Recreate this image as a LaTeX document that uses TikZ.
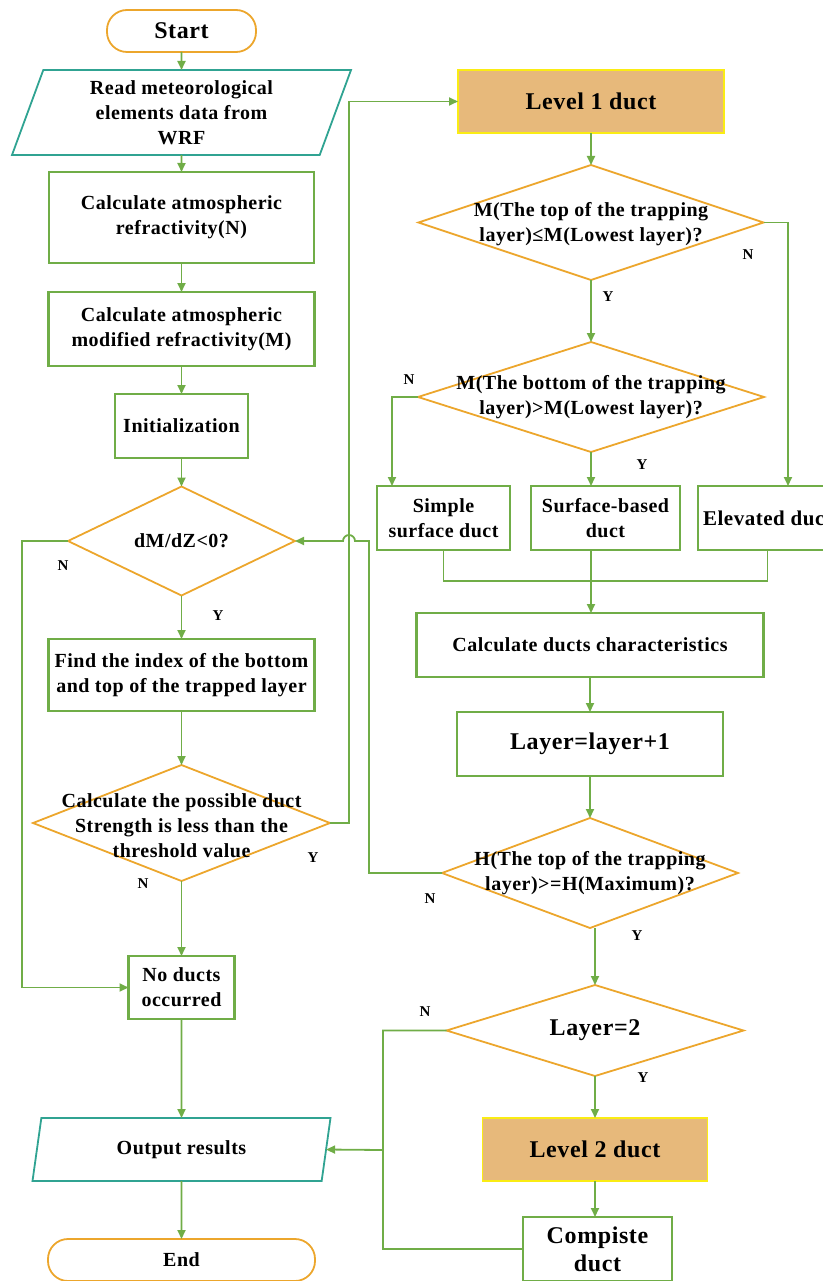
\documentclass[tikz,border=0pt]{standalone}
\usepackage{fontspec}
\setmainfont[LetterSpace=2.5]{Liberation Serif}
\usetikzlibrary{shapes.geometric, arrows.meta, calc}
\definecolor{lgreen}{RGB}{112,173,71}
\definecolor{dorange}{RGB}{236,166,44}
\definecolor{iteal}{RGB}{48,163,146}
\definecolor{ductfill}{RGB}{231,185,123}
\definecolor{ductedge}{RGB}{250,236,20}
\newcommand\fnorm{\fontsize{20}{25}\selectfont\bfseries}
\newcommand\fbig{\fontsize{24}{28}\selectfont\bfseries}
\newcommand\yn[3]{\node[ynlab] (#1) at (#2) {#3};}

\tikzset{
  proc/.style={draw=lgreen, line width=2.2pt, fill=white, rectangle, inner sep=0pt, outer sep=0pt, align=center, font=\fnorm},
  term/.style={draw=dorange, line width=1.8pt, rounded corners=20pt, inner sep=0pt, outer sep=0pt, font=\fnorm},
  io/.style={draw=iteal, line width=1.8pt, trapezium, trapezium left angle=64, trapezium right angle=116, trapezium stretches body, inner sep=0pt, outer sep=0pt, align=center, font=\fnorm},
  dec/.style={draw=dorange, line width=1.8pt, diamond, inner sep=0pt, outer sep=0pt},
  dtext/.style={align=center, inner sep=0pt, font=\fnorm},
  ductlvl/.style={draw=ductedge, fill=ductfill, line width=1.8pt, inner sep=0pt, outer sep=0pt, font=\fbig},
  ynlab/.style={font=\fontsize{15}{15}\selectfont\bfseries, inner sep=0pt},
  link/.style={draw=lgreen, line width=1.8pt},
  arr/.style={link, -{Triangle[length=9pt,width=8pt]}},
}

\begin{document}
\begin{tikzpicture}[x=1pt, y=-1pt]
\useasboundingbox (0,0) rectangle (822,1281);

% left column
\node[term, font=\fbig, minimum width=149pt, minimum height=42pt] (start) at (181.5,31) {Start};
\node[io, minimum width=339pt, minimum height=85pt] (read) at (181.5,112.5) {Read meteorological\\elements data from\\WRF};
\node[proc, minimum width=265pt, minimum height=91pt] (calcN) at (181.5,217.5) {Calculate atmospheric\\refractivity(N)};
\node[proc, minimum width=266pt, minimum height=74pt] (calcM) at (181.5,329) {Calculate atmospheric\\modified refractivity(M)};
\node[proc, minimum width=133pt, minimum height=64pt] (init) at (181.5,426) {Initialization};
\node[dec, minimum width=227pt, minimum height=109pt] (dz) at (181.5,541) {};
\node[dtext] (dzt) at (dz) {dM/dZ<0?};
\node[proc, minimum width=266pt, minimum height=72pt] (find) at (181.5,675) {Find the index of the bottom\\and top of the trapped layer};
\node[dec, minimum width=297pt, minimum height=116pt] (pd) at (181.5,823) {};
\node[dtext] (pdt) at (181.5,826) {Calculate the possible duct\\Strength is less than the\\threshold value};
\node[proc, minimum width=106pt, minimum height=63pt] (nod) at (181.5,987.5) {No ducts\\occurred};
\node[io, minimum width=298pt, minimum height=63pt] (out) at (181.5,1149.5) {Output results};
\node[term, minimum width=267pt, minimum height=42pt] (end) at (181.5,1260) {End};

% right column
\node[ductlvl, minimum width=266pt, minimum height=63pt] (lvl1) at (591,101.5) {Level 1 duct};
\node[dec, minimum width=345pt, minimum height=115pt] (d1) at (591,222.5) {};
\node[dtext] (d1t) at (591,224) {M(The top of the trapping\\layer)≤M(Lowest layer)?};
\node[dec, minimum width=346pt, minimum height=110pt] (d2) at (591,397) {};
\node[dtext] (d2t) at (d2) {M(The bottom of the trapping\\layer)>M(Lowest layer)?};
\node[proc, minimum width=133pt, minimum height=64pt] (simple) at (443.5,518) {Simple\\surface duct};
\node[proc, minimum width=149pt, minimum height=64pt] (surf) at (605.5,518) {Surface-based\\duct};
\node[proc, font=\fontsize{21}{26}\selectfont\bfseries, minimum width=139pt, minimum height=64pt] (elev) at (767.5,518) {Elevated duct};
\node[proc, minimum width=347pt, minimum height=64pt] (cdc) at (590,645) {Calculate ducts characteristics};
\node[proc, font=\fbig, minimum width=266pt, minimum height=64pt] (lay) at (590,744) {Layer=layer+1};
\node[dec, minimum width=296pt, minimum height=110pt] (d3) at (590,873) {};
\node[dtext] (d3t) at (d3) {H(The top of the trapping\\layer)>=H(Maximum)?};
\node[dec, minimum width=297pt, minimum height=91pt] (d4) at (595,1030.5) {};
\node[dtext, font=\fbig] (d4t) at (d4) {Layer=2};
\node[ductlvl, minimum width=225pt, minimum height=63pt] (lvl2) at (595,1149.5) {Level 2 duct};
\node[proc, font=\fbig, minimum width=149pt, minimum height=64pt] (comp) at (597.5,1249) {Compiste\\duct};

\coordinate (hop) at (349,541);
\coordinate (mrg) at (591,581);
\coordinate (jn) at (383,1150);

% left flow
\draw[arr] (start.south) -- (read.north);
\draw[arr] (read.south) -- (calcN.north);
\draw[arr] (calcN.south) -- (calcM.north);
\draw[arr] (calcM.south) -- (init.north);
\draw[arr] (init.south) -- (dz.north);
\draw[arr] (dz.south) -- (find.north);
\draw[arr] (find.south) -- (pd.north);
\draw[arr] (pd.south) -- (nod.north);
\draw[arr] (nod.south) -- (out.north);
\draw[arr] (out.south) -- (end.north);
\draw[arr] (dz.west) -- ++(-46,0) |- (nod.west);
\draw[arr] (pd.east) -- (hop |- pd.east) |- (lvl1.west);

% right flow
\draw[arr] (lvl1.south) -- (d1.north);
\draw[arr] (d1.south) -- (d2.north);
\draw[arr] (d1.east) -| ([xshift=20.5pt]elev.north);
\draw[arr] (d2.west) -| ([xshift=-51.5pt]simple.north);
\draw[arr] (d2.south) -- (d2.south |- surf.north);
\draw[link] (simple.south) |- (mrg) -| (elev.south);
\draw[arr] (d2.south |- surf.south) -- (d2.south |- cdc.north);
\draw[arr] (cdc.south) -- (lay.north);
\draw[arr] (lay.south) -- (d3.north);
\draw[arr] (d3.west) -- ++(-73,0) |- ([xshift=6pt]hop) arc[start angle=0, end angle=-180, radius=6] -- (dz.east);
\draw[arr] (d4.north |- d3.south) -- (d4.north);
\draw[arr] (d4.south) -- (lvl2.north);
\draw[arr] (lvl2.south) -- (lvl2.south |- comp.north);
\draw[arr] (d4.west) -| (jn) -- (out.east);
\draw[link] (comp.west) -| (jn);

% Y / N
\yn{ynA}{63,566}{N}
\yn{ynB}{218,616}{Y}
\yn{ynC}{313,858}{Y}
\yn{ynD}{143,884}{N}
\yn{ynE}{608,297}{Y}
\yn{ynF}{748,255}{N}
\yn{ynG}{409,380}{N}
\yn{ynH}{642,465}{Y}
\yn{ynI}{430,899}{N}
\yn{ynJ}{637,936}{Y}
\yn{ynK}{425,1012}{N}
\yn{ynL}{643,1078}{Y}

\end{tikzpicture}
\end{document}
